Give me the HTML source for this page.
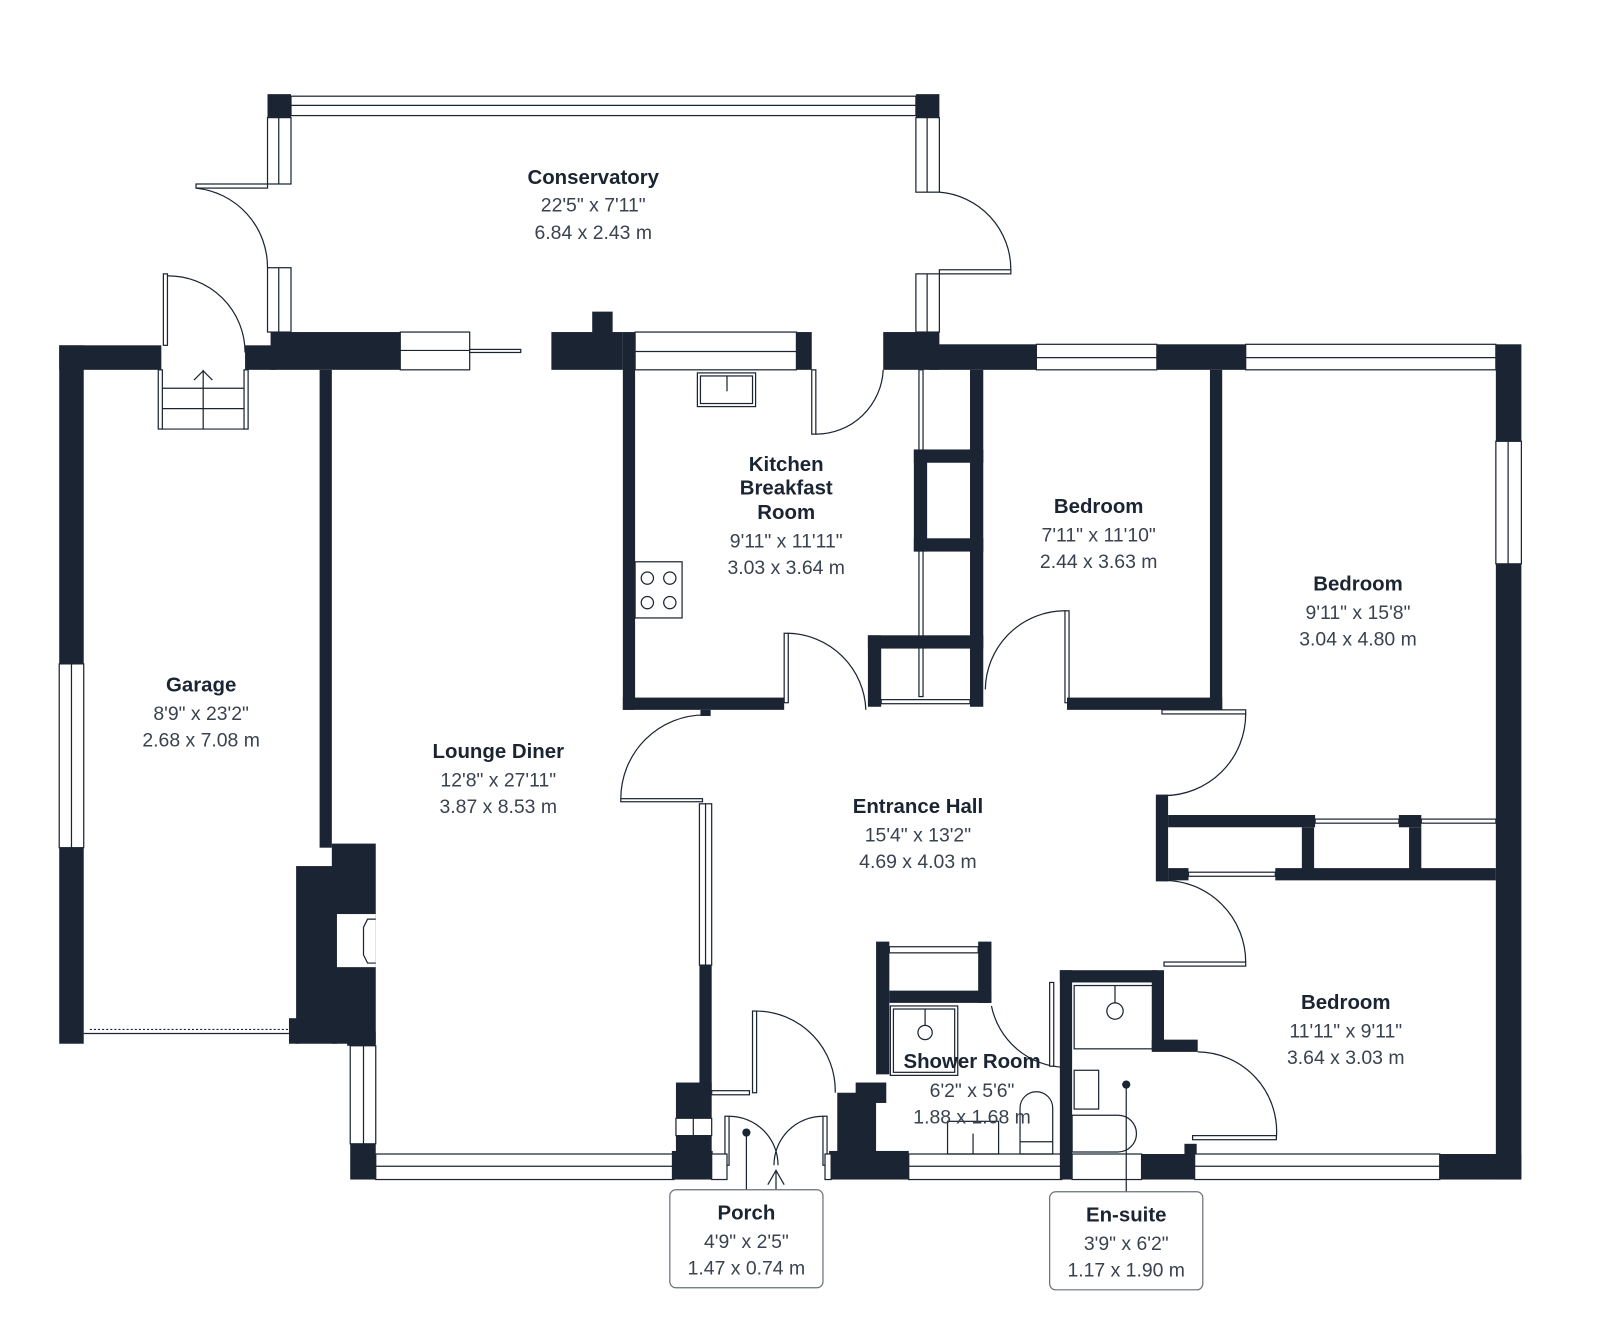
<!DOCTYPE html>
<html><head><meta charset="utf-8"><style>
html,body{margin:0;padding:0;background:#fff;}
svg{display:block;}
.w{fill:#1b2432;}
.l{fill:none;stroke:#1b2432;stroke-width:1.2;}
.win{fill:#fff;stroke:#1b2432;stroke-width:1.2;}
.t{font-family:"Liberation Sans",sans-serif;font-weight:bold;font-size:20px;fill:#1b2432;text-anchor:middle;}
.d{font-family:"Liberation Sans",sans-serif;font-size:19px;fill:#3a4250;text-anchor:middle;}
</style></head><body>
<svg width="1600" height="1338" viewBox="0 0 1567 1310" xmlns="http://www.w3.org/2000/svg">
<rect class="win" x="285" y="94" width="612" height="19"/><line class="l" x1="285" y1="103" x2="897" y2="103"/>
<rect class="w" x="262" y="92" width="23" height="23"/><rect class="w" x="897" y="92" width="23" height="23"/>
<rect class="win" x="262" y="115" width="23" height="65"/><line class="l" x1="273" y1="115" x2="273" y2="180"/>
<rect class="win" x="262" y="262" width="23" height="63"/><line class="l" x1="273" y1="262" x2="273" y2="325"/>
<rect class="win" x="897" y="115" width="23" height="73"/><line class="l" x1="908" y1="115" x2="908" y2="188"/>
<rect class="win" x="897" y="268" width="23" height="57"/><line class="l" x1="908" y1="268" x2="908" y2="325"/>
<rect class="win" x="192" y="180" width="70" height="4"/><path class="l" d="M192 184 A78 78 0 0 1 262 262"/>
<rect class="win" x="920" y="264" width="70" height="4"/><path class="l" d="M990 264 A76 76 0 0 0 920 188"/>
<rect class="w" x="58" y="338" width="100" height="24"/>
<rect class="w" x="58" y="338" width="24" height="312"/>
<rect class="win" x="58" y="650" width="24" height="180"/><line class="l" x1="70" y1="650" x2="70" y2="830"/>
<rect class="w" x="58" y="830" width="24" height="192"/>
<rect class="win" x="160" y="268" width="4" height="70"/><path class="l" d="M164 270 A75 75 0 0 1 240 345"/>
<rect class="w" x="240" y="338" width="30" height="24"/>
<rect class="w" x="265" y="325" width="127" height="37"/>
<rect class="win" x="392" y="325" width="68" height="37"/><line class="l" x1="392" y1="343" x2="460" y2="343"/>
<rect class="win" x="460" y="342" width="50" height="3"/>
<rect class="win" x="155" y="362" width="4" height="58"/><rect class="win" x="239" y="362" width="4" height="58"/>
<line class="l" x1="159" y1="380" x2="239" y2="380"/><line class="l" x1="159" y1="400" x2="239" y2="400"/><line class="l" x1="159" y1="420" x2="239" y2="420"/><line class="l" x1="199" y1="362" x2="199" y2="420"/>
<path class="l" d="M190 372 L199 363 L208 372"/>
<rect class="w" x="313" y="362" width="12" height="468"/>
<rect class="w" x="325" y="826" width="43" height="196"/>
<rect class="w" x="290" y="848" width="40" height="174"/>
<rect class="w" x="283" y="997" width="10" height="25"/>
<rect class="w" x="340" y="1010" width="28" height="14"/>
<rect x="330" y="895" width="38" height="52" fill="#fff"/><path class="l" d="M368 900 L360 900 L356 908 L356 935 L360 943 L368 943"/>
<line x1="88" y1="1008" x2="283" y2="1008" stroke="#1b2432" stroke-width="1" stroke-dasharray="2,2"/>
<line class="l" x1="82" y1="1012" x2="283" y2="1012"/>
<rect class="win" x="343" y="1024" width="25" height="96"/><line class="l" x1="356" y1="1024" x2="356" y2="1120"/>
<rect class="w" x="343" y="1120" width="25" height="35"/>
<rect class="win" x="368" y="1130" width="292" height="25"/><line class="l" x1="368" y1="1142" x2="660" y2="1142"/>
<rect class="w" x="658" y="1127" width="40" height="28"/>
<rect class="w" x="662" y="1060" width="35" height="35"/>
<rect class="win" x="662" y="1095" width="35" height="17"/><line class="l" x1="679" y1="1095" x2="679" y2="1112"/>
<rect class="w" x="662" y="1112" width="35" height="18"/>
<rect class="w" x="685" y="945" width="12" height="125"/>
<rect class="win" x="685" y="787" width="12" height="158"/><line class="l" x1="691" y1="787" x2="691" y2="945"/>
<rect class="win" x="608" y="782" width="80" height="3"/><path class="l" d="M608 782 A82 82 0 0 1 690 700"/>
<rect class="w" x="540" y="325" width="70" height="37"/><rect class="w" x="580" y="305" width="20" height="22"/>
<rect class="w" x="610" y="325" width="12" height="370"/>
<rect class="win" x="622" y="325" width="158" height="37"/><line class="l" x1="622" y1="344" x2="780" y2="344"/>
<rect class="w" x="780" y="325" width="15" height="37"/>
<rect class="win" x="683" y="365" width="57" height="33"/><rect class="l" x="686" y="368" width="51" height="27"/><line class="l" x1="712" y1="368" x2="712" y2="383"/>
<rect class="win" x="622" y="550" width="46" height="55"/>
<circle class="l" cx="634" cy="566" r="6"/><circle class="l" cx="656" cy="566" r="6"/><circle class="l" cx="634" cy="590" r="6"/><circle class="l" cx="656" cy="590" r="6"/>
<rect class="w" x="610" y="683" width="158" height="12"/><rect class="w" x="686" y="695" width="10" height="6"/>
<rect class="win" x="795" y="362" width="4" height="63"/><path class="l" d="M799 425 A66 66 0 0 0 865 362"/>
<rect class="win" x="768" y="620" width="4" height="68"/><path class="l" d="M772 620 A78 78 0 0 1 848 695"/>
<rect class="w" x="865" y="325" width="55" height="37"/><rect class="w" x="910" y="337" width="110" height="25"/>
<rect class="win" x="1015" y="337" width="118" height="25"/><line class="l" x1="1015" y1="350" x2="1133" y2="350"/>
<rect class="w" x="1133" y="337" width="87" height="25"/>
<rect class="win" x="1220" y="337" width="245" height="25"/><line class="l" x1="1220" y1="350" x2="1465" y2="350"/>
<rect class="w" x="1465" y="337" width="25" height="95"/>
<rect class="win" x="1465" y="432" width="25" height="120"/><line class="l" x1="1477" y1="432" x2="1477" y2="552"/>
<rect class="w" x="1465" y="552" width="25" height="603"/>
<rect class="win" x="900" y="362" width="4" height="320"/>
<rect class="w" x="950" y="362" width="13" height="330"/>
<rect class="w" x="895" y="440" width="68" height="13"/><rect class="w" x="895" y="440" width="13" height="100"/>
<rect class="w" x="895" y="527" width="68" height="13"/>
<rect class="w" x="850" y="622" width="113" height="13"/><rect class="w" x="850" y="622" width="13" height="70"/>
<rect class="win" x="863" y="685" width="87" height="4"/>
<path class="l" d="M965 675 A78 78 0 0 1 1043 598"/><rect class="win" x="1043" y="598" width="4" height="90"/>
<rect class="w" x="1045" y="683" width="152" height="12"/>
<rect class="w" x="1185" y="362" width="12" height="333"/>
<rect class="win" x="1138" y="695" width="82" height="4"/><path class="l" d="M1220 699 A80 80 0 0 1 1140 779"/>
<rect class="w" x="1132" y="778" width="12" height="85"/>
<rect class="w" x="1144" y="798" width="144" height="12"/>
<rect class="w" x="1275" y="810" width="12" height="45"/>
<rect class="w" x="1370" y="798" width="22" height="12"/><rect class="w" x="1380" y="810" width="12" height="45"/>
<rect class="win" x="1288" y="802" width="82" height="4"/><rect class="win" x="1392" y="802" width="73" height="4"/>
<rect class="w" x="1144" y="850" width="20" height="12"/><rect class="win" x="1164" y="854" width="85" height="4"/>
<rect class="w" x="1249" y="850" width="216" height="12"/>
<path class="l" d="M1140 862 A80 80 0 0 1 1220 942"/><rect class="win" x="1140" y="942" width="80" height="4"/>
<rect class="w" x="858" y="922" width="13" height="130"/><rect class="w" x="958" y="922" width="13" height="60"/>
<rect class="win" x="871" y="927" width="87" height="6"/>
<rect class="w" x="871" y="970" width="100" height="12"/>
<path class="l" d="M971 985 A75 75 0 0 0 1042 1045"/>
<rect class="w" x="820" y="1070" width="38" height="60"/><rect class="w" x="838" y="1060" width="30" height="20"/>
<rect class="w" x="812" y="1127" width="78" height="28"/>
<rect class="win" x="890" y="1130" width="150" height="25"/><line class="l" x1="890" y1="1142" x2="1040" y2="1142"/>
<rect class="l" x="872" y="985" width="66" height="68"/><rect class="l" x="875" y="988" width="60" height="62"/><circle class="l" cx="906" cy="1011" r="7"/><line class="l" x1="906" y1="988" x2="906" y2="1004"/>
<rect class="l" x="928" y="1098" width="50" height="32"/><line class="l" x1="953" y1="1110" x2="953" y2="1130"/>
<path class="l" d="M999 1130 L999 1085 A16 16 0 0 1 1031 1085 L1031 1130 Z"/><line class="l" x1="999" y1="1118" x2="1031" y2="1118"/>
<rect class="w" x="1038" y="950" width="12" height="205"/><rect class="w" x="1038" y="950" width="95" height="12"/>
<rect class="w" x="1128" y="950" width="12" height="78"/><rect class="w" x="1128" y="1018" width="45" height="12"/>
<rect class="win" x="1028" y="962" width="4" height="82"/>
<rect class="l" x="1052" y="965" width="78" height="62"/><circle class="l" cx="1092" cy="990" r="8"/><line class="l" x1="1092" y1="965" x2="1092" y2="982"/>
<rect class="l" x="1052" y="1048" width="24" height="38"/>
<path class="l" d="M1050 1092 L1095 1092 A18 18 0 0 1 1095 1128 L1050 1128 Z"/>
<path class="l" d="M1173 1030 A78 78 0 0 1 1250 1115"/><rect class="win" x="1168" y="1112" width="82" height="4"/>
<rect class="win" x="1050" y="1130" width="68" height="25"/>
<rect class="w" x="1118" y="1130" width="52" height="25"/><rect class="w" x="1160" y="1120" width="12" height="12"/>
<rect class="win" x="1170" y="1130" width="240" height="25"/><line class="l" x1="1170" y1="1142" x2="1410" y2="1142"/>
<rect class="w" x="1410" y="1130" width="80" height="25"/>
<rect class="win" x="697" y="1068" width="37" height="4"/>
<rect class="win" x="737" y="990" width="4" height="80"/><path class="l" d="M741 990 A78 78 0 0 1 818 1070"/>
<rect class="win" x="710" y="1093" width="4" height="48"/><rect class="win" x="806" y="1093" width="4" height="48"/>
<path class="l" d="M714 1093 A48 48 0 0 1 762 1141 M806 1093 A48 48 0 0 0 758 1141"/>
<rect class="win" x="697" y="1130" width="15" height="25"/><rect class="win" x="808" y="1130" width="6" height="25"/>
<path class="l" d="M752 1160 L760 1146 L768 1160 M760 1146 L760 1165"/>
<circle cx="731" cy="1109" r="4" fill="#1b2432"/><line class="l" x1="731" y1="1109" x2="731" y2="1165"/>
<circle cx="1103" cy="1062" r="4" fill="#1b2432"/><line class="l" x1="1103" y1="1062" x2="1103" y2="1167"/>
<rect x="656" y="1165" width="150" height="96" rx="6" fill="#fff" stroke="#6a707a" stroke-width="1.2"/>
<rect x="1028" y="1167" width="150" height="96" rx="6" fill="#fff" stroke="#6a707a" stroke-width="1.2"/>
<text class="t" x="581" y="180">Conservatory</text><text class="d" x="581" y="207">22'5" x 7'11"</text><text class="d" x="581" y="234">6.84 x 2.43 m</text>
<text class="t" x="770" y="461">Kitchen</text><text class="t" x="770" y="484">Breakfast</text><text class="t" x="770" y="508">Room</text>
<text class="d" x="770" y="536">9'11" x 11'11"</text><text class="d" x="770" y="562">3.03 x 3.64 m</text>
<text class="t" x="1076" y="502">Bedroom</text><text class="d" x="1076" y="530">7'11" x 11'10"</text><text class="d" x="1076" y="556">2.44 x 3.63 m</text>
<text class="t" x="1330" y="578">Bedroom</text><text class="d" x="1330" y="606">9'11" x 15'8"</text><text class="d" x="1330" y="632">3.04 x 4.80 m</text>
<text class="t" x="197" y="677">Garage</text><text class="d" x="197" y="705">8'9" x 23'2"</text><text class="d" x="197" y="731">2.68 x 7.08 m</text>
<text class="t" x="488" y="742">Lounge Diner</text><text class="d" x="488" y="770">12'8" x 27'11"</text><text class="d" x="488" y="796">3.87 x 8.53 m</text>
<text class="t" x="899" y="796">Entrance Hall</text><text class="d" x="899" y="824">15'4" x 13'2"</text><text class="d" x="899" y="850">4.69 x 4.03 m</text>
<text class="t" x="1318" y="988">Bedroom</text><text class="d" x="1318" y="1016">11'11" x 9'11"</text><text class="d" x="1318" y="1042">3.64 x 3.03 m</text>
<text class="t" x="952" y="1046">Shower Room</text><text class="d" x="952" y="1074">6'2" x 5'6"</text><text class="d" x="952" y="1100">1.88 x 1.68 m</text>
<text class="t" x="731" y="1194">Porch</text><text class="d" x="731" y="1222">4'9" x 2'5"</text><text class="d" x="731" y="1248">1.47 x 0.74 m</text>
<text class="t" x="1103" y="1196">En-suite</text><text class="d" x="1103" y="1224">3'9" x 6'2"</text><text class="d" x="1103" y="1250">1.17 x 1.90 m</text>
</svg>
</body></html>
